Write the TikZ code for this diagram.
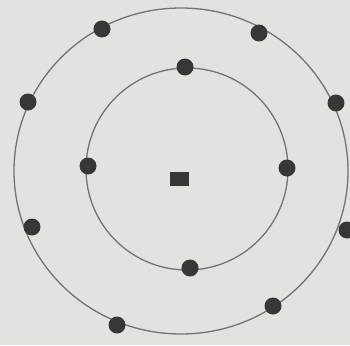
\documentclass[tikz,border=0pt]{standalone}
\definecolor{bg}{RGB}{226,226,224}
\definecolor{ring}{RGB}{115,115,115}
\definecolor{dotc}{RGB}{55,55,55}
\begin{document}
\begin{tikzpicture}[x=1pt,y=-1pt,
  electron/.style={circle,fill=dotc,inner sep=0pt,minimum size=17pt},
  shell/.style={draw=ring,line width=1.3pt}]
\fill[bg] (0,0) rectangle (350,345);
\useasboundingbox (0,0) rectangle (350,345);
\draw[shell] (181,171) ellipse [x radius=167, y radius=163];
\draw[shell] (187,169) circle [radius=101];
\node[fill=dotc,minimum width=19pt,minimum height=14pt,inner sep=0pt] (nucleus) at (179,178.5) {};
% inner shell electrons
\node[electron] (i1) at (185,67) {};
\node[electron] (i2) at (88,166) {};
\node[electron] (i3) at (287,168) {};
\node[electron] (i4) at (190,268) {};
% outer shell electrons
\node[electron] (o1) at (102,29) {};
\node[electron] (o2) at (259,33) {};
\node[electron] (o3) at (28,102) {};
\node[electron] (o4) at (336,103) {};
\node[electron] (o5) at (32,227) {};
\node[electron] (o6) at (347,230) {};
\node[electron] (o7) at (273,306) {};
\node[electron] (o8) at (117,325) {};
\end{tikzpicture}
\end{document}
